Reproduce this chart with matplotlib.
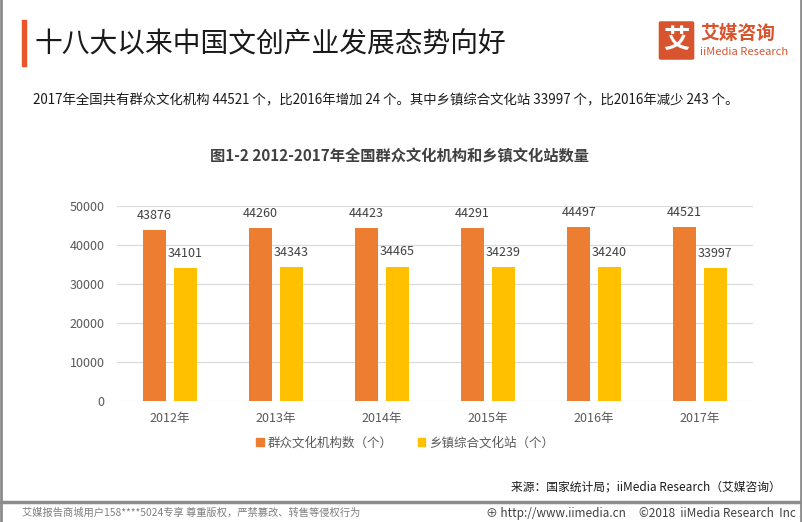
import matplotlib
matplotlib.use("Agg")
import matplotlib.pyplot as plt
import matplotlib.patches as mpatches
import numpy as np

plt.rcParams['font.family'] = ['Noto Sans CJK SC', 'DejaVu Sans']

years = ["2012年", "2013年", "2014年", "2015年", "2016年", "2017年"]
qunzhong = [43876, 44260, 44423, 44291, 44497, 44521]
xiangzhen = [34101, 34343, 34465, 34239, 34240, 33997]
series_names = ["群众文化机构数（个）", "乡镇综合文化站（个）"]
yticks = [0, 10000, 20000, 30000, 40000, 50000]

W, H = 802, 522
fig = plt.figure(figsize=(W / 100, H / 100), dpi=100)
fig.patch.set_facecolor("white")

def fx(x):
    return x / W

def fy(y):
    return 1 - y / H

# frame lines
fig.add_artist(plt.Line2D([fx(1), fx(1)], [0, 1], color="#8c8c8c", lw=2))
fig.add_artist(plt.Line2D([fx(801), fx(801)], [0, 1], color="#8c8c8c", lw=2))
fig.add_artist(plt.Line2D([0, 1], [fy(502), fy(502)], color="#8c8c8c", lw=2.5))

# title with red accent
fig.add_artist(mpatches.Rectangle((fx(22), fy(66)), fx(4), 46 / H, color="#e8562a"))
fig.text(fx(35), fy(44), "十八大以来中国文创产业发展态势向好", fontsize=20,
         color="#1a1a1a", va="center", ha="left")

# logo
fig.add_artist(mpatches.FancyBboxPatch((fx(661), fy(58)), 31 / W, 35 / H,
               boxstyle="round,pad=0.002", color="#d8542f"))
fig.text(fx(676.5), fy(40), "艾", fontsize=19, color="white", weight="bold",
         ha="center", va="center")
fig.text(fx(700), fy(33), "艾媒咨询", fontsize=13.5, color="#d8542f", weight="bold",
         ha="left", va="center")
fig.text(fx(700), fy(52), "iiMedia Research", fontsize=8, color="#d8542f",
         ha="left", va="center")

fig.text(fx(33), fy(100), "2017年全国共有群众文化机构 44521 个，比2016年增加 24 个。其中乡镇综合文化站 33997 个，比2016年减少 243 个。",
         fontsize=9.65, color="#1a1a1a", ha="left", va="center")

fig.text(fx(400), fy(157), "图1-2 2012-2017年全国群众文化机构和乡镇文化站数量",
         fontsize=11, weight="bold", color="#404040", ha="center", va="center")

ax = fig.add_axes([fx(117), fy(401), 636 / W, 195 / H])
x = np.arange(len(years))
bw = 0.22
off = 0.145
b1 = ax.bar(x - off, qunzhong, bw, color="#ed7d31", zorder=3)
b2 = ax.bar(x + off, xiangzhen, bw, color="#ffc000", zorder=3)
for rects, vals in ((b1, qunzhong), (b2, xiangzhen)):
    for r, v in zip(rects, vals):
        ax.text(r.get_x() + r.get_width() / 2, v + 2100, str(v), ha="center",
                va="bottom", fontsize=9, color="#404040")
ax.set_xlim(-0.5, len(years) - 0.5)
ax.set_ylim(0, 50000)
ax.set_yticks(yticks)
ax.set_xticks(x)
ax.set_xticklabels(years)
ax.grid(axis="y", color="#d9d9d9", lw=0.8, zorder=0)
for s in ax.spines.values():
    s.set_visible(False)
ax.tick_params(length=0, labelsize=9, colors="#595959")
ax.tick_params(axis="y", pad=9)
ax.tick_params(axis="x", pad=8)

handles = [mpatches.Patch(color="#ed7d31"), mpatches.Patch(color="#ffc000")]
fig.legend(handles, series_names, loc="center", bbox_to_anchor=(fx(405), fy(443)),
           ncol=2, frameon=False, fontsize=9, handlelength=0.6, handleheight=0.6,
           handletextpad=0.3, columnspacing=2.0, labelcolor="#595959")

fig.text(fx(781), fy(487), "来源：国家统计局；iiMedia Research（艾媒咨询）",
         fontsize=8.5, color="#1a1a1a", ha="right", va="center")

fig.text(fx(22), fy(513), "艾媒报告商城用户158****5024专享 尊重版权，严禁篡改、转售等侵权行为",
         fontsize=7.4, color="#7f7f7f", ha="left", va="center")
fig.text(fx(796), fy(513), "⊕ http://www.iimedia.cn     ©2018  iiMedia Research  Inc",
         fontsize=8.5, color="#404040", ha="right", va="center")

fig.savefig("out.png", dpi=100, facecolor="white")
